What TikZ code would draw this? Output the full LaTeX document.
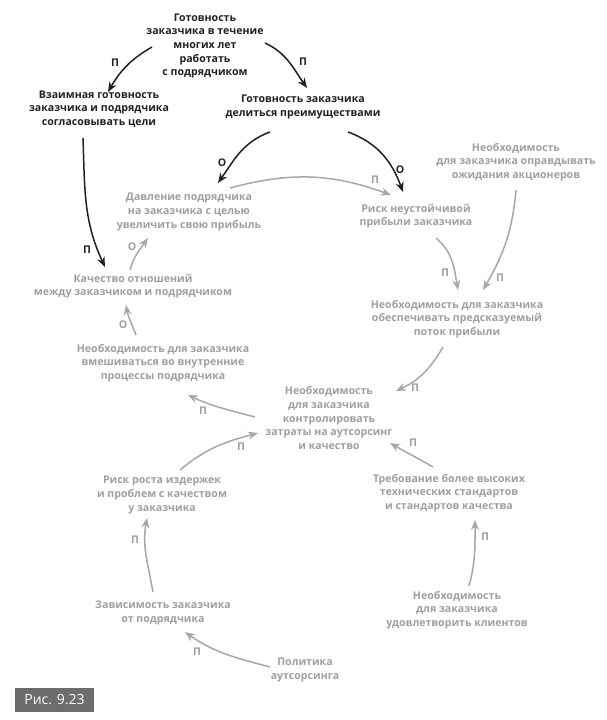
\documentclass[tikz,border=0pt]{standalone}
\usepackage{fontspec}
\setmainfont{Open Sans}
\usetikzlibrary{arrows.meta}
\definecolor{txtgrey}{HTML}{9D9EA6}
\definecolor{argrey}{HTML}{A5A6AE}
\definecolor{blk}{HTML}{231F20}
\definecolor{boxgrey}{HTML}{6D6D6D}
\begin{document}
\begin{tikzpicture}[x=1pt,y=1pt,
  txt/.style={align=center,inner sep=0pt,font=\bfseries\fontsize{10.6}{13.7}\selectfont},
  btxt/.style={txt,text=blk},
  gtxt/.style={txt,text=txtgrey},
  blab/.style={inner sep=0pt,font=\bfseries\fontsize{10.6}{12}\selectfont,text=blk},
  glab/.style={inner sep=0pt,font=\bfseries\fontsize{10.6}{12}\selectfont,text=txtgrey},
  barr/.style={draw=blk,line width=1.5pt,-{Stealth[length=10pt,width=8pt]}},
  garr/.style={draw=argrey,line width=1.5pt,-{Stealth[length=10pt,width=8pt]}}]
\useasboundingbox (0,0) rectangle (607,-720);
% nodes
\node[btxt] (top) at (205,-46) {Готовность\\заказчика в течение\\многих лет\\работать\\с подрядчиком};
\node[btxt] (mutual) at (99,-109) {Взаимная готовность\\заказчика и подрядчика\\согласовывать цели};
\node[btxt] (share) at (303,-107) {Готовность заказчика\\делиться преимуществами};
\node[gtxt] (press) at (189,-212) {Давление подрядчика\\на заказчика с целью\\увеличить свою прибыль};
\node[gtxt] (risk) at (416,-216) {Риск неустойчивой\\прибыли заказчика};
\node[gtxt] (holders) at (516,-162) {Необходимость\\для заказчика оправдывать\\ожидания акционеров};
\node[gtxt] (qual) at (133,-286) {Качество отношений\\между заказчиком и подрядчиком};
\node[gtxt] (pred) at (457,-319) {Необходимость для заказчика\\обеспечивать предсказуемый\\поток прибыли};
\node[gtxt] (interv) at (163,-363) {Необходимость для заказчика\\вмешиваться во внутренние\\процессы подрядчика};
\node[gtxt] (ctrl) at (329,-418) {Необходимость\\для заказчика\\контролировать\\затраты на аутсорсинг\\и качество};
\node[gtxt] (req) at (449,-493) {Требование более высоких\\технических стандартов\\и стандартов качества};
\node[gtxt] (sat) at (457,-610) {Необходимость\\для заказчика\\удовлетворить клиентов};
\node[gtxt] (crisk) at (162,-495) {Риск роста издержек\\и проблем с качеством\\у заказчика};
\node[gtxt] (dep) at (163,-613) {Зависимость заказчика\\от подрядчика};
\node[gtxt] (pol) at (305,-670) {Политика\\аутсорсинга};
\node[fill=boxgrey,text=white,minimum width=79pt,minimum height=24pt,inner sep=0pt,font=\fontsize{14}{16}\selectfont] (fig) at (54.5,-700) {Рис. 9.23};
% black connectors
\draw[barr] ([shift={(-53,-1)}]top.center) to[out=210,in=60] ([shift={(9,17)}]mutual.center);
\draw[barr] ([shift={(60,3)}]top.center) to[out=-25,in=125] ([shift={(4,19)}]share.center);
\draw[barr] ([shift={(-33,-25)}]share.center) to[out=200,in=55] ([shift={(29,29)}]press.center);
\draw[barr] ([shift={(45,-25)}]share.center) to[out=-20,in=110] ([shift={(-13,24)}]risk.center);
\draw[barr] ([shift={(-16,-29)}]mutual.center) to[out=-88,in=115] ([shift={(-28,19)}]qual.center);
% grey connectors
\draw[garr] ([shift={(41,24)}]press.center) to[out=15,in=160] ([shift={(-25,21)}]risk.center);
\draw[garr] ([shift={(-3,16)}]qual.center) to[out=75,in=235] ([shift={(-41,-26)}]press.center);
\draw[garr] ([shift={(-27,28)}]interv.center) to[out=110,in=-80] ([shift={(-7,-19)}]qual.center);
\draw[garr] ([shift={(20,-22)}]risk.center) to[out=-40,in=100] ([shift={(1,29)}]pred.center);
\draw[garr] ([shift={(0,-28)}]holders.center) to[out=-95,in=60] ([shift={(26,29)}]pred.center);
\draw[garr] ([shift={(-14,-28)}]pred.center) to[out=-120,in=25] ([shift={(67,27)}]ctrl.center);
\draw[garr] ([shift={(-74,1)}]ctrl.center) to[out=165,in=-25] ([shift={(25,-32)}]interv.center);
\draw[garr] ([shift={(18,25)}]crisk.center) to[out=40,in=195] ([shift={(-71,-15)}]ctrl.center);
\draw[garr] ([shift={(-16,26)}]req.center) to[out=150,in=-30] ([shift={(61,-25)}]ctrl.center);
\draw[garr] ([shift={(12,24)}]sat.center) to[out=75,in=-90] ([shift={(26,-27)}]req.center);
\draw[garr] ([shift={(-10,21)}]dep.center) to[out=100,in=-100] ([shift={(-15,-23)}]crisk.center);
\draw[garr] ([shift={(-35,3)}]pol.center) to[out=165,in=-35] ([shift={(22,-19)}]dep.center);
% labels
\node[blab] (l1) at (115,-63) {П};
\node[blab] (l2) at (303,-62) {П};
\node[blab] (l3) at (222,-163) {О};
\node[blab] (l4) at (400,-170) {О};
\node[blab] (l5) at (87,-250) {П};
\node[glab] (l6) at (375,-180) {П};
\node[glab] (l7) at (132,-247) {О};
\node[glab] (l8) at (123,-325) {О};
\node[glab] (l9) at (445,-273) {П};
\node[glab] (l10) at (500,-278) {П};
\node[glab] (l11) at (415,-388) {П};
\node[glab] (l12) at (203,-411) {П};
\node[glab] (l13) at (241,-447) {П};
\node[glab] (l14) at (413,-443) {П};
\node[glab] (l15) at (485,-537) {П};
\node[glab] (l16) at (135,-540) {П};
\node[glab] (l17) at (197,-652) {П};
\end{tikzpicture}
\end{document}
